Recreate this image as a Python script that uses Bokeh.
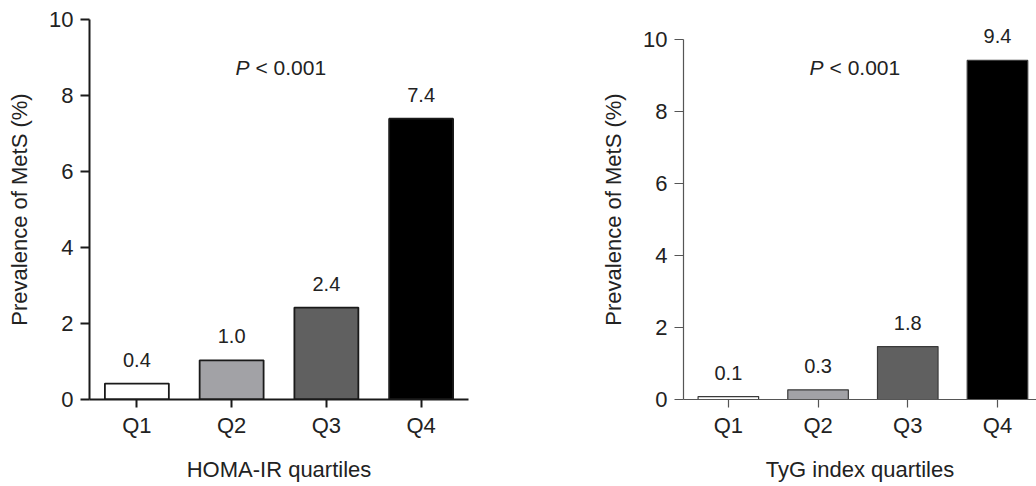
from bokeh.plotting import figure
from bokeh.models import ColumnDataSource, Range1d, FixedTicker
from bokeh.layouts import row
from bokeh.embed import file_html
from bokeh.resources import INLINE
from bokeh.core.properties import value

categories = ["Q1", "Q2", "Q3", "Q4"]
homa_values = [0.42, 1.03, 2.42, 7.39]
homa_labels = ["0.4", "1.0", "2.4", "7.4"]
tyg_values = [0.08, 0.27, 1.47, 9.42]
tyg_labels = ["0.1", "0.3", "1.8", "9.4"]
bar_colors = ["#ffffff", "#a2a2a6", "#606060", "#000000"]
y_ticks = [0, 2, 4, 6, 8, 10]

FONT = "Liberation Sans"
TXT = "#222222"


def make_panel(vals, labels, xlabel, width, min_left, min_right, x_end, y_end,
               axis_color, axis_w, outline_color, outline_w, p_xy):
    pos = [i + 0.5 for i in range(len(categories))]
    src = ColumnDataSource(dict(x=pos, top=vals, lab=labels, color=bar_colors))
    p = figure(width=width, height=486, output_backend="svg", toolbar_location=None,
               title=None,
               x_range=Range1d(0, x_end), y_range=Range1d(0, y_end),
               min_border_left=min_left, min_border_right=min_right,
               min_border_top=19, min_border_bottom=87)
    p.outline_line_color = None
    p.grid.grid_line_color = None
    p.background_fill_color = "white"
    p.border_fill_color = "white"

    p.vbar(x="x", top="top", width=0.675, bottom=0, fill_color="color",
           line_color=outline_color, line_width=outline_w, source=src)
    p.text(x="x", y="top", text="lab", source=src, text_align="center",
           text_baseline="alphabetic", y_offset=-24, text_font=value(FONT),
           text_font_size="20px", text_color=TXT)
    p.text(x=[p_xy[0]], y=[p_xy[1]], text=["P"], text_align="left",
           text_baseline="middle", text_font=value(FONT),
           text_font_size="21px", text_font_style="italic", text_color=TXT)
    p.text(x=[p_xy[0]], y=[p_xy[1]], text=["< 0.001"], text_align="left",
           text_baseline="middle", x_offset=20, text_font=value(FONT),
           text_font_size="21px", text_color=TXT)

    xa = p.xaxis[0]
    xa.ticker = FixedTicker(ticks=pos)
    xa.major_label_overrides = {v: c for v, c in zip(pos, categories)}
    xa.minor_tick_line_color = None
    xa.major_tick_in = 0
    xa.major_tick_out = 8
    xa.major_label_standoff = 5
    xa.axis_label = xlabel
    xa.axis_label_standoff = 16
    ya = p.yaxis[0]
    ya.ticker = FixedTicker(ticks=y_ticks)
    ya.bounds = (0, 10)
    ya.minor_tick_line_color = None
    ya.major_tick_in = 0
    ya.major_tick_out = 9
    ya.major_label_standoff = 7
    ya.axis_label = "Prevalence of MetS (%)"
    ya.axis_label_standoff = 14
    for ax in (xa, ya):
        ax.axis_line_color = axis_color
        ax.axis_line_width = axis_w
        ax.major_tick_line_color = axis_color
        ax.major_tick_line_width = axis_w
        ax.major_label_text_font = FONT
        ax.major_label_text_font_size = "22px"
        ax.major_label_text_color = TXT
        ax.axis_label_text_font = FONT
        ax.axis_label_text_font_size = "22px"
        ax.axis_label_text_font_style = "normal"
        ax.axis_label_text_color = TXT
    return p


left = make_panel(homa_values, homa_labels, "HOMA-IR quartiles", 478, 89, 10, 4.0, 10.0,
                  "#1a1a1a", 2, "#1a1a1a", 1.8, (1.54, 8.75))
right = make_panel(tyg_values, tyg_labels, "TyG index quartiles", 558, 205, 0, 3.935, 10.556,
                   "#555555", 1.2, "#3a3a3a", 1.2, (1.405, 9.22))

layout = row(left, right)
open("out.html", "w").write(file_html(layout, INLINE))
